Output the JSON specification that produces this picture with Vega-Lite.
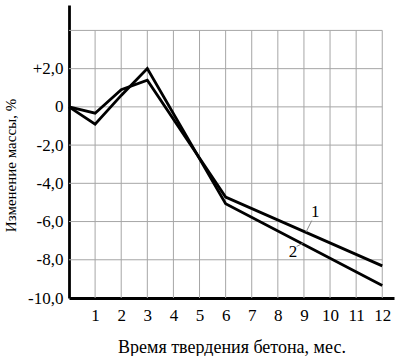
{
  "$schema": "https://vega.github.io/schema/vega-lite/v6.json",
  "width": 325,
  "height": 293,
  "autosize": {"type": "none"},
  "padding": {"left": 69, "top": 5, "right": 5, "bottom": 58},
  "background": "white",
  "config": {
    "view": {"stroke": null},
    "font": "Liberation Serif",
    "style": {
      "guide-label": {"font": "Liberation Serif", "fontSize": 17, "fill": "black"},
      "guide-title": {"font": "Liberation Serif", "fontSize": 17, "fill": "black", "fontWeight": "normal"}
    },
    "axis": {
      "labelFont": "Liberation Serif", "labelFontSize": 17, "labelColor": "black",
      "titleFont": "Liberation Serif", "titleFontSize": 17, "titleFontWeight": "normal", "titleColor": "black",
      "labelOverlap": false, "labelFlush": false,
      "grid": false, "ticks": false,
      "domainColor": "black", "domainWidth": 2.8
    }
  },
  "datasets": {
    "gridv": [
      {"x": 1, "y": -10, "y2": 4}, {"x": 2, "y": -10, "y2": 4}, {"x": 3, "y": -10, "y2": 4},
      {"x": 4, "y": -10, "y2": 4}, {"x": 5, "y": -10, "y2": 4}, {"x": 6, "y": -10, "y2": 4},
      {"x": 7, "y": -10, "y2": 4}, {"x": 8, "y": -10, "y2": 4}, {"x": 9, "y": -10, "y2": 4},
      {"x": 10, "y": -10, "y2": 4}, {"x": 11, "y": -10, "y2": 4}, {"x": 12, "y": -10, "y2": 4}
    ],
    "gridh": [
      {"y": -8, "x": 0, "x2": 12}, {"y": -6, "x": 0, "x2": 12}, {"y": -4, "x": 0, "x2": 12},
      {"y": -2, "x": 0, "x2": 12}, {"y": 0, "x": 0, "x2": 12}, {"y": 2, "x": 0, "x2": 12},
      {"y": 4, "x": 0, "x2": 12}
    ],
    "series": [
      {"x": 0, "y": 0, "curve": "1"},
      {"x": 1, "y": -0.33, "curve": "1"},
      {"x": 2, "y": 0.9, "curve": "1"},
      {"x": 3, "y": 1.4, "curve": "1"},
      {"x": 6, "y": -4.72, "curve": "1"},
      {"x": 12, "y": -8.32, "curve": "1"},
      {"x": 0, "y": 0, "curve": "2"},
      {"x": 1, "y": -0.9, "curve": "2"},
      {"x": 2, "y": 0.6, "curve": "2"},
      {"x": 3, "y": 2.0, "curve": "2"},
      {"x": 6, "y": -5.07, "curve": "2"},
      {"x": 12, "y": -9.35, "curve": "2"}
    ],
    "labels": [
      {"x": 9.43, "y": -5.5, "text": "1"},
      {"x": 8.58, "y": -7.6, "text": "2"}
    ],
    "leaders": [
      {"x": 9.3, "y": -5.95, "x2": 9.08, "y2": -6.55},
      {"x": 8.72, "y": -7.3, "x2": 8.95, "y2": -7.15}
    ]
  },
  "encoding": {
    "x": {
      "field": "x", "type": "quantitative",
      "scale": {"domain": [0, 12.45], "nice": false, "zero": false},
      "axis": {
        "title": "Время твердения бетона, мес.",
        "values": [1, 2, 3, 4, 5, 6, 7, 8, 9, 10, 11, 12],
        "labelOverlap": false,
        "labelFont": "Liberation Serif", "titleFont": "Liberation Serif",
        "labelFontSize": 17, "titleFontSize": 18,
        "labelPadding": 9,
        "titlePadding": 15
      }
    },
    "y": {
      "field": "y", "type": "quantitative",
      "scale": {"domain": [-10, 5.33], "nice": false, "zero": false},
      "axis": {
        "title": "Изменение массы, %",
        "values": [-10, -8, -6, -4, -2, 0, 2],
        "labelExpr": "datum.value == 0 ? '0' : (datum.value > 0 ? '+' : '-') + abs(datum.value) + ',0'",
        "labelOverlap": false,
        "labelFont": "Liberation Serif", "titleFont": "Liberation Serif",
        "labelFontSize": 17, "titleFontSize": 15,
        "labelPadding": 6,
        "titlePadding": 9,
        "titleY": 160
      }
    }
  },
  "layer": [
    {
      "data": {"name": "gridv"},
      "mark": {"type": "rule", "color": "#a6a6a6", "strokeWidth": 1},
      "encoding": {
        "y2": {"field": "y2"}
      }
    },
    {
      "data": {"name": "gridh"},
      "mark": {"type": "rule", "color": "#a6a6a6", "strokeWidth": 1},
      "encoding": {
        "x2": {"field": "x2"}
      }
    },
    {
      "data": {"name": "series"},
      "mark": {"type": "line", "color": "black", "strokeWidth": 2.8, "strokeJoin": "miter"},
      "encoding": {
        "detail": {"field": "curve"}
      }
    },
    {
      "data": {"name": "leaders"},
      "mark": {"type": "rule", "color": "#888888", "strokeWidth": 1},
      "encoding": {
        "x2": {"field": "x2"},
        "y2": {"field": "y2"}
      }
    },
    {
      "data": {"name": "labels"},
      "mark": {"type": "text", "font": "Liberation Serif", "fontSize": 17, "color": "black"},
      "encoding": {
        "text": {"field": "text"}
      }
    }
  ]
}
